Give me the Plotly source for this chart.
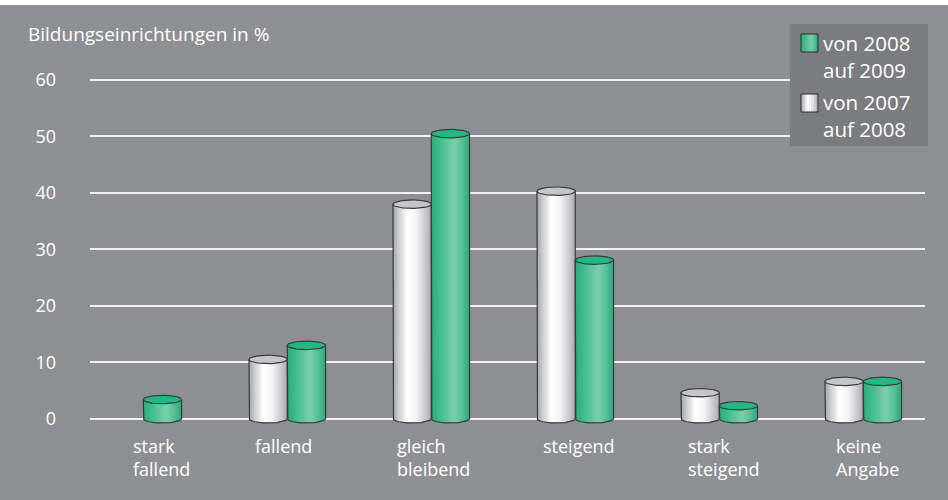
import numpy as np
import plotly.graph_objects as go

# ---------------- data ----------------
categories = ["stark<br>fallend", "fallend", "gleich<br>bleibend", "steigend",
              "stark<br>steigend", "keine<br>Angabe"]
v_2007_2008 = [None, 10.5, 38.0, 40.3, 4.6, 6.6]   # white cylinders
v_2008_2009 = [3.4, 13.0, 50.5, 28.1, 2.3, 6.6]    # green cylinders
y_ticks = [0, 10, 20, 30, 40, 50, 60]
legend_labels = ["von 2008<br>auf 2009", "von 2007<br>auf 2008"]
y_title = "Bildungseinrichtungen in %"

# ---------------- layout geometry ----------------
W, H = 948, 500
ML, MR, MT, MB = 90, 23, 63, 70
PW, PH = W - ML - MR, H - MT - MB
X_RANGE = [-0.370, 5.429]
Y_RANGE = [-2.0, 63.01]

def pxx(px):
    return (px - ML) / PW

def pxy(py):
    return (H - MB - py) / PH

BG = "#8e8f93"
LEG_BG = "#7b7c80"
OUT = "#3a3a3c"
HW = 0.133     # half bar width (category units)
RY = 0.75      # ellipse half-height (value units)

white_scale = [[0, "#a2a2a7"], [0.15, "#cdcdd1"], [0.38, "#ffffff"], [0.58, "#f6f6f7"],
               [0.85, "#c9c9cd"], [1, "#a9a9ae"]]
green_scale = [[0, "#27ae7c"], [0.2, "#3fba8a"], [0.6, "#7bcea9"], [0.8, "#55c096"],
               [1, "#28ac7b"]]
white_top = "#c4c5c9"
green_top = "#22b884"

fig = go.Figure()

def cylinder(xc, v, scale, topcol):
    t = np.linspace(0, np.pi, 40)
    bx = np.concatenate([[xc - HW], xc - HW * np.cos(t), [xc + HW, xc - HW]])
    by = np.concatenate([[v], -RY * np.sin(t), [v, v]])
    fig.add_trace(go.Scatter(
        x=bx, y=by, mode="lines", fill="toself",
        fillgradient=dict(type="horizontal", colorscale=scale),
        line=dict(color=OUT, width=1.2), hoverinfo="skip", showlegend=False))
    t2 = np.linspace(0, 2 * np.pi, 80)
    fig.add_trace(go.Scatter(
        x=xc + HW * np.cos(t2), y=v + RY * np.sin(t2), mode="lines", fill="toself",
        fillcolor=topcol, line=dict(color=OUT, width=1.2),
        hoverinfo="skip", showlegend=False))

for i in range(len(categories)):
    if v_2007_2008[i] is not None:
        cylinder(i - HW, v_2007_2008[i], white_scale, white_top)
    if v_2008_2009[i] is not None:
        cylinder(i + HW, v_2008_2009[i], green_scale, green_top)

FONT = "Open Sans"
annotations = []

# category labels (left aligned under each group)
label_left_px = [131, 253, 395, 541, 686, 834]
for lab, lx in zip(categories, label_left_px):
    annotations.append(dict(
        text=lab, x=pxx(lx), y=pxy(432), xref="paper", yref="paper",
        xanchor="left", yanchor="top", align="left", showarrow=False,
        font=dict(family=FONT, size=18, color="white")))

# y axis title
annotations.append(dict(
    text=y_title, x=pxx(26), y=pxy(34), xref="paper", yref="paper",
    xanchor="left", yanchor="middle", showarrow=False,
    font=dict(family=FONT, size=19, color="white")))

shapes = []
# white strip at top of picture
shapes.append(dict(type="rect", xref="paper", yref="paper",
                   x0=pxx(0), x1=pxx(W), y0=pxy(0), y1=pxy(5),
                   fillcolor="white", line=dict(width=0), layer="above"))
# legend box
shapes.append(dict(type="rect", xref="paper", yref="paper",
                   x0=pxx(790), x1=pxx(928), y0=pxy(24), y1=pxy(146),
                   fillcolor=LEG_BG, line=dict(width=0), layer="above"))

def swatch(x0, y0, x1, y1, scale):
    n = 10
    cols = [c for _, c in scale]
    pos = [p for p, _ in scale]
    def interp(f):
        for k in range(len(pos) - 1):
            if pos[k] <= f <= pos[k + 1]:
                a = (f - pos[k]) / (pos[k + 1] - pos[k])
                c0 = [int(cols[k][j:j + 2], 16) for j in (1, 3, 5)]
                c1 = [int(cols[k + 1][j:j + 2], 16) for j in (1, 3, 5)]
                return "rgb(%d,%d,%d)" % tuple(round(c0[m] + a * (c1[m] - c0[m])) for m in range(3))
        return cols[-1]
    for k in range(n):
        sx0 = x0 + (x1 - x0) * k / n
        sx1 = x0 + (x1 - x0) * (k + 1) / n
        shapes.append(dict(type="rect", xref="paper", yref="paper",
                           x0=pxx(sx0), x1=pxx(sx1 + 0.3), y0=pxy(y0), y1=pxy(y1),
                           fillcolor=interp((k + 0.5) / n), line=dict(width=0), layer="above"))
    shapes.append(dict(type="rect", xref="paper", yref="paper",
                       x0=pxx(x0), x1=pxx(x1), y0=pxy(y0), y1=pxy(y1),
                       fillcolor="rgba(0,0,0,0)", line=dict(color="#2a2a2a", width=1),
                       layer="above"))

swatch(801, 34, 818, 52, green_scale)
swatch(801, 94, 818, 112, white_scale)

for lab, cy in zip(legend_labels, [56, 115.5]):
    annotations.append(dict(
        text=lab, x=pxx(821), y=pxy(cy), xref="paper", yref="paper",
        xanchor="left", yanchor="middle", align="left", showarrow=False,
        font=dict(family=FONT, size=20.5, color="white")))

fig.update_layout(
    width=W, height=H,
    margin=dict(l=ML, r=MR, t=MT, b=MB, pad=0),
    paper_bgcolor=BG, plot_bgcolor=BG,
    showlegend=False,
    xaxis=dict(range=X_RANGE, showgrid=False, zeroline=False, showticklabels=False,
               ticks="", fixedrange=True),
    yaxis=dict(range=Y_RANGE, tickvals=y_ticks, ticktext=[str(v) for v in y_ticks],
               showgrid=True, gridcolor="#f2f2f2", gridwidth=1.6,
               zeroline=True, zerolinecolor="#f2f2f2", zerolinewidth=1.6,
               ticks="", ticklabelstandoff=33,
               tickfont=dict(family=FONT, size=18, color="white"), fixedrange=True),
    annotations=annotations, shapes=shapes,
)

fig.write_html("out.html")
